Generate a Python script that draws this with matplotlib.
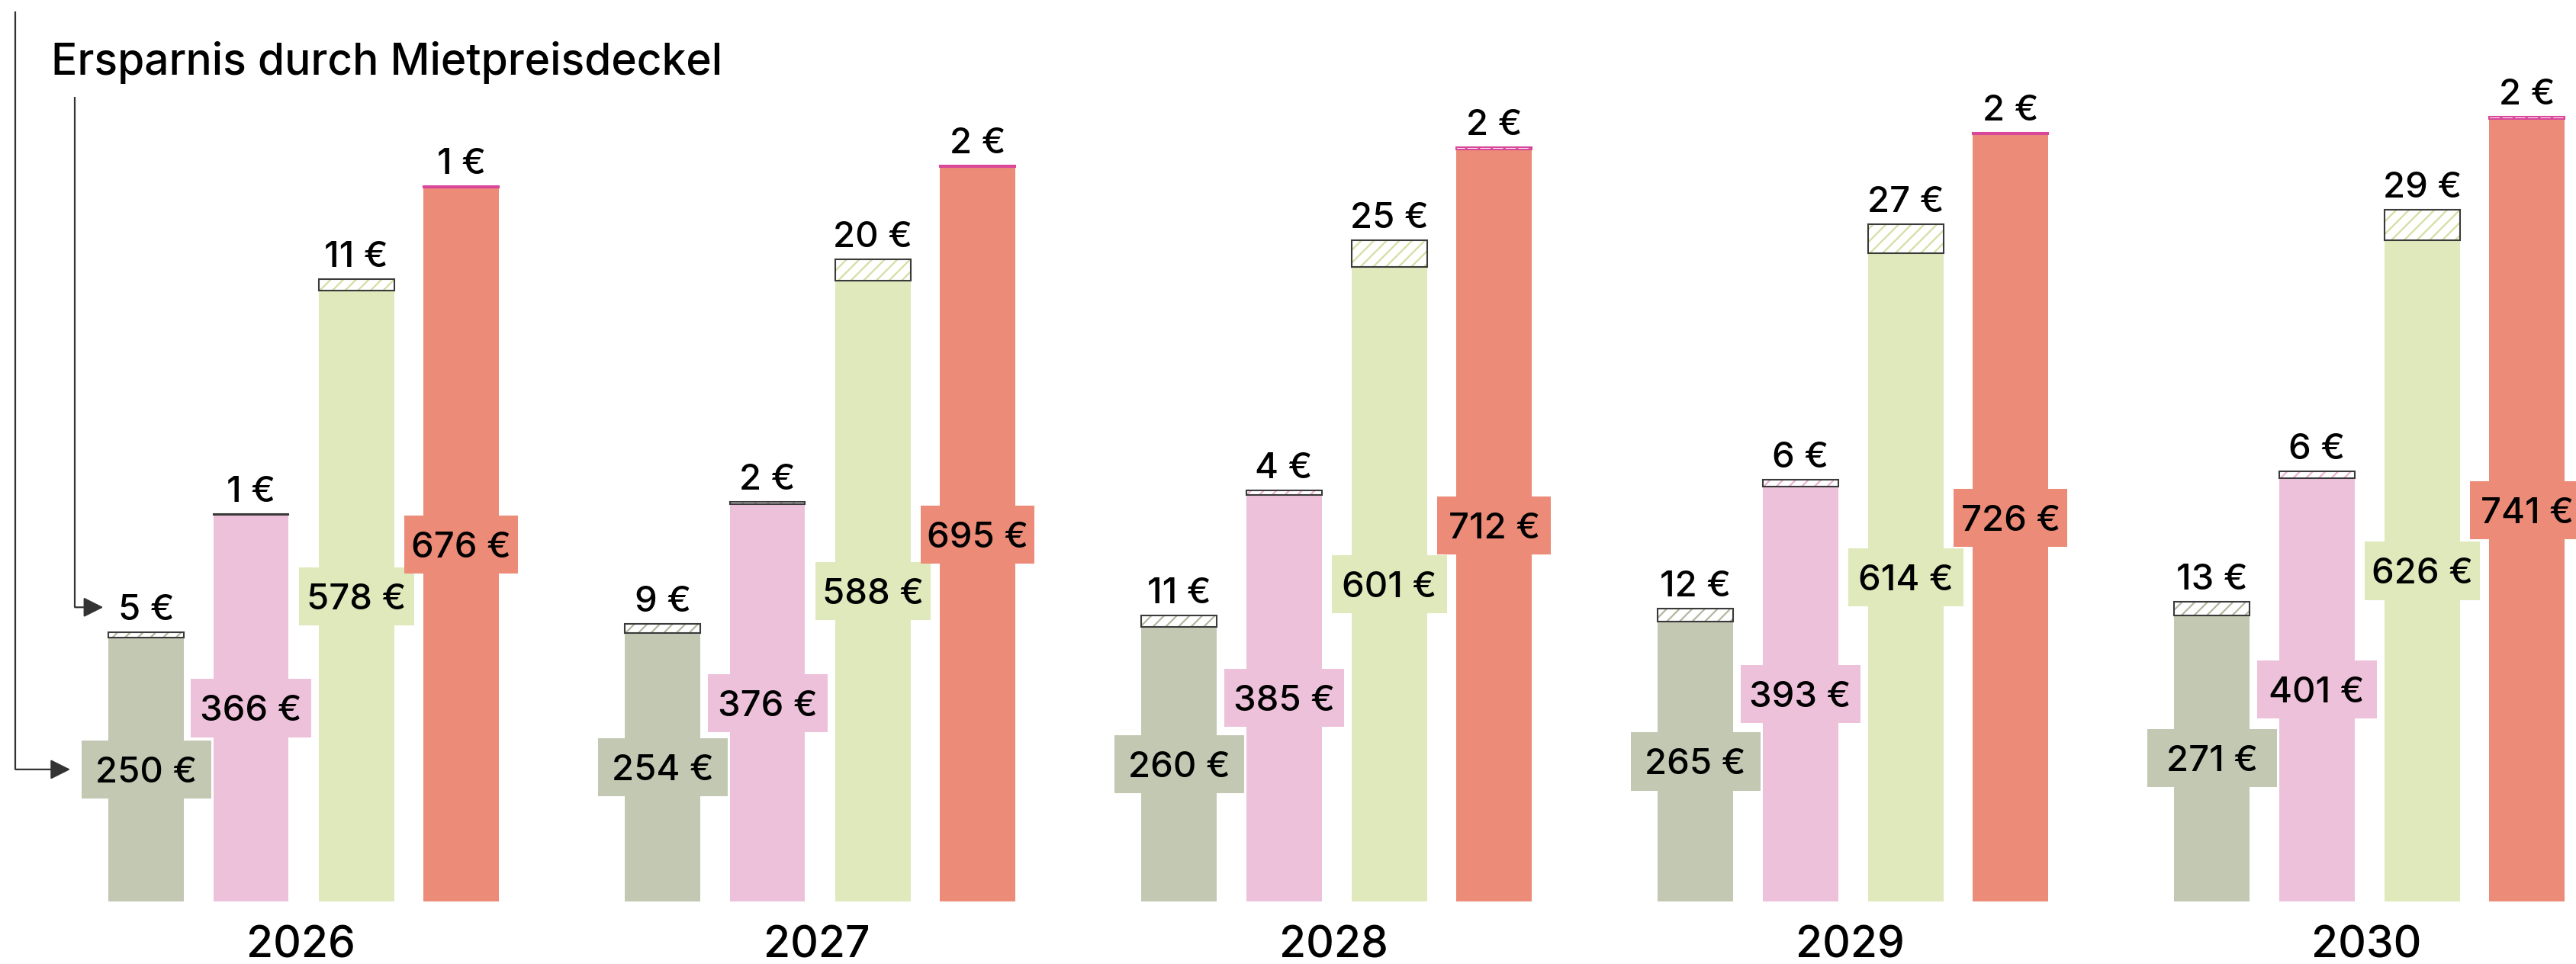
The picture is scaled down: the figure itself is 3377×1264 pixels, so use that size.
import numpy as np
import matplotlib
matplotlib.use("Agg")
import matplotlib.pyplot as plt

plt.rcParams["font.family"] = ["Inter", "DejaVu Sans"]
plt.rcParams["font.weight"] = "medium"
plt.rcParams["hatch.linewidth"] = 1.6

years = [2026, 2027, 2028, 2029, 2030]
# monthly rent per series, and the part saved by the rent cap
base = [
    [250, 254, 260, 265, 271],
    [366, 376, 385, 393, 401],
    [578, 588, 601, 614, 626],
    [676, 695, 712, 726, 741],
]
savings = [
    [5, 9, 11, 12, 13],
    [1, 2, 4, 6, 6],
    [11, 20, 25, 27, 29],
    [1, 2, 2, 2, 2],
]
title = "Ersparnis durch Mietpreisdeckel"

colors = ["#c3c8b3", "#eec1db", "#e0e9bb", "#ec8b78"]
hatch_colors = ["#b3b79f", "#e8b2cf", "#d3dfa2", "#d9479b"]
cap_edges = ["#3a3a3a", "#3a3a3a", "#3a3a3a", "#d9479b"]
label_box_w = [0.251, 0.232, 0.223, 0.220]
offsets = [-0.305, -0.102, 0.102, 0.305]
bar_w = 0.146
box_h = 55  # label background height in euro units

W, H, DPI = 3377, 1264, 100
fig = plt.figure(figsize=(W / DPI, H / DPI), dpi=DPI, facecolor="white")
ax = fig.add_axes([0, 0, 1, 1])
ax.set_xlim(-0.588, 4.400)
ax.set_ylim(-59.2, 853.4)
ax.axis("off")

x0 = np.arange(len(years))
for j in range(4):
    xs = x0 + offsets[j]
    b = np.array(base[j])
    s = np.array(savings[j])
    ax.bar(xs, b, width=bar_w, color=colors[j], lw=0, zorder=1)
    # saved amount: hatched cap on top of the bar
    ax.bar(xs, s, bottom=b, width=bar_w, color="white", hatch="//",
           edgecolor=hatch_colors[j], lw=0, zorder=2)
    ax.bar(xs, s, bottom=b, width=bar_w, fill=False,
           edgecolor=cap_edges[j], lw=1.5, zorder=3)
    # value label boxes centred on each bar
    ax.bar(xs, box_h, bottom=b / 2 - box_h / 2, width=label_box_w[j],
           color=colors[j], lw=0, zorder=4)
    for x, bv, sv in zip(xs, b, s):
        ax.annotate(f"{bv} €", (x, bv / 2), xytext=(0, -12.2),
                    textcoords="offset points", ha="center", va="baseline",
                    fontsize=34, color="black", zorder=5)
        ax.annotate(f"{sv} €", (x, bv + sv), xytext=(0, 11.5),
                    textcoords="offset points", ha="center", va="baseline",
                    fontsize=34, color="black", zorder=5)

for x, yr in zip(x0, years):
    ax.text(x - 0.006, -53.0, str(yr), ha="center", va="baseline",
            fontsize=41, color="black")

# title and leader arrows pointing at the first group
fig.text(67 / W, 1 - 98 / H, title, ha="left", va="baseline",
         fontsize=41, color="black")

line_kw = dict(color="#333333", lw=1.6, solid_capstyle="butt")
arrow_kw = dict(arrowstyle="-|>", color="#333333", lw=1.6,
                shrinkA=0, shrinkB=0, mutation_scale=40)

y_outer = base[0][0] / 2
ax.plot([-0.558, -0.558], [842.6, y_outer], **line_kw)
ax.annotate("", xy=(-0.452, y_outer), xytext=(-0.558, y_outer),
            arrowprops=arrow_kw)

y_inner = base[0][0] + savings[0][0] + 23.5
ax.plot([-0.443, -0.443], [761.7, y_inner], **line_kw)
ax.annotate("", xy=(-0.388, y_inner), xytext=(-0.443, y_inner),
            arrowprops=arrow_kw)

fig.savefig("out.png", dpi=DPI, facecolor="white")
